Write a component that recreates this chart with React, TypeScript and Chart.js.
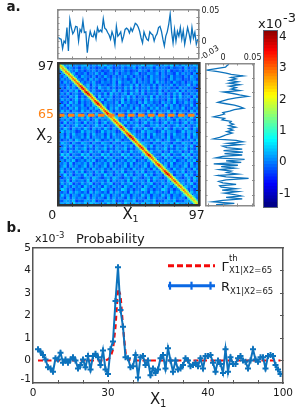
import React, { useEffect, useRef } from "react";
import { Chart, registerables } from "chart.js";

Chart.register(...registerables);

const W = 307;
const H = 413;
const FONT = "DejaVu Sans";

// ---------- panel a: top marginal ----------
const topSeries = [
  0.0075, 0.005, 0.004, -0.011, 0.001, -0.002, 0.023, -0.015, 0.036, 0.023, 0.013, 0.017, 0.025, 0.024, 0.001, 0.02,
  0.016, 0.034, 0.015, 0.016, -0.018, 0.004, 0.017, 0.009, 0.008, 0.016, 0.005, 0.023, 0.016, 0.019, 0.016, 0.037,
  0.022, 0.02, 0.015, 0.011, 0.004, 0.016, 0.009, -0.005, 0.025, 0.009, 0.012, 0.016, 0.001, 0.009, 0.02, 0.022,
  0.02, 0.014, 0.022, 0.017, 0.023, 0.03, 0.028, 0.024, 0.017, 0.006, -0.002, 0.016, 0.009, 0.004, 0.002, 0.016,
  0.013, 0.011, 0.001, 0.009, 0.013, 0.023, 0.025, 0.017, 0.004, -0.007, 0.009, 0.016, 0.028, 0.045, 0.016, -0.002,
  0.02, 0.001, 0.017, 0.009, 0.023, 0.004, 0.018, -0.004, 0.009, 0.023, 0.013, 0.001, 0.023, 0.006, 0.015, -0.004,
  0.004,
];
const topXMarks = [10, 20, 30, 40, 50, 60, 70, 80, 90];
const topYMarks = [-0.02, -0.01, 0, 0.01, 0.02, 0.03, 0.04, 0.05];
const topYLabels: [number, string][] = [[0.05, "0.05"], [0, "0"]];

// ---------- panel a: side marginal ----------
const sideSeries = [
  0.0097, 0.0063, 0.004, -0.012, -0.027, -0.009, 0.005, 0.0136, 0.0335, 0.0136, 0.022, 0.011, 0.025, 0.0097, 0.028,
  0.011, 0.022, 0.0136, 0.028, 0.0006, 0.0165, 0.028, 0.0415, 0.022, 0.008, -0.0006, -0.009, 0.005, 0.019, 0.028,
  0.0347, 0.019, 0.011, -0.0006, 0.0023, -0.006, -0.016, 0.0023, -0.0017, 0.0136, 0.011, 0.0176, 0.0097, 0.021,
  0.0097, 0.0165, 0.0063, 0.0153, 0.0063, 0.0006, -0.006, -0.016, 0.022, 0.0335, 0.008, 0.029, -0.0006, 0.0063,
  0.0324, 0.0006, 0.0335, 0.0023, 0.0324, -0.0006, -0.012, 0.0364, 0.005, 0.0307, -0.016, 0.025, -0.0034, 0.019,
  -0.006, 0.0136, 0.0063, 0.025, -0.009, 0.005, 0.0432, 0.005, -0.0074, -0.0006, 0.022, -0.006, -0.0034, 0.022,
  -0.0017, 0.025, 0.0023, 0.019, 0.0307, 0.005, 0.0324, -0.0006, -0.0176, 0.019, -0.012,
];
const sideXMarks = [-0.025, 0, 0.025, 0.05];
const sideXLabels: [number, string][] = [[0, "0"], [0.05, "0.05"]];
const sideYMarks = [10, 20, 30, 40, 50, 60, 70, 80, 90];

// ---------- panel a: covariance map ----------
// background levels, digit d => value, one string per row, top to bottom
const backgroundRows = [
  "7567856578647586957485768575695786475869574867586",
  "6354635264735246375243635472634562735426345273546",
  "5243647352546352437254635243745263546372435264537",
  "4625372436254736245372546357243654726354273645263",
  "5372436275436253742635473625436274536427354263745",
  "3645274536274635263746352473625374635247365243652",
  "6274538263547326453728456372645372846352743625476",
  "4536274635827463524736254738264537263547263548362",
  "3527463524736285473625374826354736275463527463524",
  "5263748263547326354837263548273645372635482736452",
  "4637256347285463728463572846372546375263748253647",
  "6352748263547283647253648372546382735462738456273",
  "3746258374625348276354827364527384635274836452738",
  "5263847263548372645372846352738463527463825374625",
  "4728365472638452736458273645283746352847362543827",
  "6352748365274836527483654728365274836527463825364",
  "3847265384726354837264538276453827364582736452837",
  "5263748526374825364728536472853647285364728536472",
  "7584937584926485739485739264857394857392648573948",
  "3647258364725836472583647258364752836475283647528",
  "5283647528364725836472583746258374625837462583746",
  "4726358472635847263584726358472365847263584726358",
  "6385274638527463852746385274638527463852746385274",
  "3847562384756238475623847562384765238475623847562",
  "5627384562738456273845627384562738456273845627384",
  "4738265473826547382654738265473826547382654738265",
  "6254738625473862547386254738625473862574386254738",
  "3865274386527438652743865274386527438652743865274",
  "5374826537482653748265374826537482653748265374826",
  "4682537468253746825374682537468253746825374682537",
  "7263845726384572638457263845726384572638457263845",
  "3958264395826439582643958264395826439582643958264",
  "5284736528473652847365284736528473652847365284736",
  "4637582463758246375824637582463758246375824637582",
  "6473825647382564738256473825647382564738256473825",
  "3582746358274635827463582746358274635827463582746",
  "5736284573628457362845736284573628457362845736284",
  "4825637482563748256374825637482563748256374825637",
  "6394725639472563947256394725639472563947256394725",
  "4257386425738642573864257386425738642573864257386",
  "5638274563827456382745638274563827456382745638274",
  "3746825374682537468253746825374682537468253746825",
  "6285374628537462853746285374628537462853746285374",
  "4973625497362549736254973625497362549736254973625",
  "5362847536284753628475362847536284753628475362847",
  "3847265384726538472653847265384726538472653847265",
  "6528374652837465283746528374652837465283746528374",
  "4376582437658243765824376582437658243765824376582",
  "6758496758496758496758496758496758496758496758496",
];
const backgroundBase = -0.6;
const backgroundStep = 0.12;
// values along the bright diagonal, from top-left to bottom-right
const diagonalValues = [
  2.2, 2.4, 2.5, 2.6, 2.5, 2.8, 2.7, 2.9, 2.6, 2.8, 2.9, 3.0, 2.8, 3.1, 3.0, 3.4, 3.6, 3.5, 3.2, 3.7, 3.8, 3.4, 3.1,
  3.0, 2.9, 3.2, 3.5, 3.7, 3.3, 3.0, 2.8, 2.9, 3.2, 3.4, 3.6, 3.3, 3.0, 2.7, 2.9, 3.1, 3.0, 2.8, 3.2, 3.5, 3.3, 3.0,
  2.9, 3.1, 3.4, 3.7, 3.8, 3.5, 3.2, 3.0, 2.8, 3.0, 3.3, 3.5, 3.2, 2.9, 3.1, 3.3, 3.6, 3.4, 3.1, 2.9, 2.7, 3.0, 3.2,
  3.4, 3.1, 2.8, 3.0, 3.3, 3.6, 3.7, 3.4, 3.1, 2.9, 3.0, 3.2, 2.9, 2.7, 3.0, 2.8, 2.6, 2.9, 2.7, 2.5, 2.6, 2.4, 2.5,
  2.3, 2.4, 2.2, 2.3, 2.1,
];
const diagonalSpread: [number, number][] = [[-2, 0.42], [2, 0.42], [-1, 0.72], [1, 0.72], [0, 1]];
const sliceRow = 61.7;
const sliceXs = [0, 97];
const heatMarks = [10, 20, 30, 40, 50, 60, 70, 80, 90];
const heatYLabels: [number, string][] = [[95, "97"], [sliceRow, "65"]];
const heatXLabels: [number, string][] = [[-4, "0"], [95.5, "97"]];

// ---------- colour bar ----------
const colorbarEdges = [
  -1.43, -1.3, -1.2, -1.1, -1, -0.9, -0.8, -0.7, -0.6, -0.5, -0.4, -0.3, -0.2, -0.1, 0, 0.1, 0.2, 0.3, 0.4, 0.5, 0.6,
  0.7, 0.8, 0.9, 1, 1.1, 1.2, 1.3, 1.4, 1.5, 1.6, 1.7, 1.8, 1.9, 2, 2.1, 2.2, 2.3, 2.4, 2.5, 2.6, 2.7, 2.8, 2.9, 3,
  3.1, 3.2, 3.3, 3.4, 3.5, 3.6, 3.7, 3.8, 3.9, 4, 4.1, 4.22,
];
const colorbarLabels: [number, string][] = [[4, "4"], [3, "3"], [2, "2"], [1, "1"], [0, "0"], [-1, "-1"]];

// ---------- panel b ----------
const measured = [
  0.5, 0.4, 0.25, 0.05, -0.3, -0.35, -0.5, 0.1, 0.05, 0.35, -0.1, 0.05, -0.1, 0.05, 0.15, 0, -0.35, -0.2, 0.05, -0.3,
  0.2, -0.4, 0.2, 0.3, 0.15, -0.2, 0.45, -0.4, -0.6, 0.5, 0.85, 2.65, 4.15, 2.25, 1.5, 0.15, 0.1, -0.3, -0.25, 0.25,
  -0.75, 0.15, 0.2, -0.2, 0, -0.65, -0.35, -0.55, -0.4, 0.1, 0.25, -0.35, 0.55, 0, -0.5, 0, -0.4, -0.35, -0.2, 0.1, 0,
  -0.25, -0.2, -0.1, -0.25, 0.1, -0.35, 0.2, 0.2, 0.25, -0.1, -0.5, 0, -0.15, -0.55, 0.5, -0.5, 0.15, -0.15, -0.15,
  0.1, 0.2, 0, -0.05, -0.35, 0, 0.5, 0.05, -0.05, 0.15, 0.15, -0.35, 0.2, 0.25, 0.2, -0.2, -0.4, -0.6,
];
const theory = [
  0, 0, 0, 0, 0, 0, 0, 0, 0, 0, 0, 0, 0, 0, 0, 0, 0, 0, 0, 0, 0, 0, 0, 0, 0, 0, 0, 0, 0.05, 0.15, 0.5, 1.5, 3.2, 2.9,
  1.5, 0.35, 0.05, 0, 0, 0, 0, 0, 0, 0, 0, 0, 0, 0, 0, 0, 0, 0, 0, 0, 0, 0, 0, 0, 0, 0, 0, 0, 0, 0, 0, 0, 0, 0, 0, 0, 0,
  0, 0, 0, 0, 0, 0, 0, 0, 0, 0, 0, 0, 0, 0, 0, 0, 0, 0, 0, 0, 0, 0, 0, 0, 0, 0, 0,
];
const firstX = 2;
const bottomXMarks = [10, 20, 30, 40, 50, 60, 70, 80, 90];
const bottomXLabels: [number, string][] = [[0, "0"], [30, "30"], [70, "40"], [100, "100"]];
const bottomYMarks = [0, 1, 2, 3, 4];
const bottomYLabels: [number, string][] = [
  [5, "5"], [4, "4"], [3, "3"], [2, "2"], [1, "1"], [0, "0"], [-0.85, "-1"],
];

// ---------- helpers ----------
function jet(v: number) {
  const t = Math.min(1, Math.max(0, (v + 1.43) / 5.65));
  const c = (x: number) => Math.round(255 * Math.min(1, Math.max(0, x)));
  const r = c(1.5 - Math.abs(4 * t - 3));
  const g = c(1.5 - Math.abs(4 * t - 2));
  const b = c(1.5 - Math.abs(4 * t - 1));
  return `rgb(${r},${g},${b})`;
}

type Frame = { L: number; T: number; R: number; B: number; size: any };
function frame(L: number, T: number, R: number, B: number): Frame {
  return {
    L, T, R, B,
    size: {
      left: Math.min(L, 45), top: Math.min(T, 30),
      right: Math.min(W - R, 45), bottom: Math.min(H - B, 30),
    },
  };
}
function padding(f: Frame) {
  return {
    left: f.L - f.size.left, top: f.T - f.size.top,
    right: W - f.R - f.size.right, bottom: H - f.B - f.size.bottom,
  };
}
function axis(
  f: Frame, position: string, range: [number, number], marks: number[],
  labels: [number, string][], style: any,
) {
  const horizontal = position === "top" || position === "bottom";
  const all = [...marks, ...labels.map((l) => l[0]).filter((v) => !marks.includes(v))];
  const lookup = new Map(labels);
  return {
    type: "linear", axis: horizontal ? "x" : "y", position,
    min: range[0], max: range[1], reverse: !!style.reverse,
    afterBuildTicks: (s: any) => { s.ticks = all.map((value) => ({ value })); },
    afterFit: (s: any) => {
      if (horizontal) s.height = f.size[position]; else s.width = f.size[position];
      s.paddingLeft = s.paddingRight = s.paddingTop = s.paddingBottom = 0;
    },
    grid: {
      drawOnChartArea: false, drawTicks: true, tickLength: -(style.tick ?? 3), tickWidth: style.tickWidth ?? 1, z: 1,
      tickColor: (c: any) => (marks.includes(c.tick?.value) ? style.color : "rgba(0,0,0,0)"),
    },
    border: { display: true, color: style.color, width: style.width, z: 1 },
    ticks: {
      display: labels.length > 0, autoSkip: false, maxRotation: 0, minRotation: 0, padding: style.pad ?? 0,
      font: { family: FONT, size: style.font ?? 8 }, color: style.labelColor ?? "#1a1a1a",
      callback: (v: number) => lookup.get(v) ?? "",
    },
  };
}
const baseOptions = (f: Frame, scales: any) => ({
  animation: false, responsive: false, events: [],
  layout: { padding: padding(f) },
  plugins: { legend: { display: false }, tooltip: { enabled: false } },
  scales,
});

const LINE_BLUE = "#0c72bc";
const GREY = { color: "#8b8b8b", width: 1.6 };

function topConfig() {
  const f = frame(57.5, 10, 198.5, 58.5);
  const xr: [number, number] = [0, 97];
  const yr: [number, number] = [-0.0274, 0.0516];
  return {
    type: "scatter",
    data: {
      datasets: [{
        data: topSeries.map((y, i) => ({ x: i + 0.5, y })),
        showLine: true, borderColor: LINE_BLUE, borderWidth: 1.3, pointRadius: 0,
      }],
    },
    options: baseOptions(f, {
      x: axis(f, "bottom", xr, topXMarks, [], { ...GREY, tick: 2 }),
      x2: axis(f, "top", xr, topXMarks, [], { ...GREY, tick: 2 }),
      y: axis(f, "right", yr, topYMarks, topYLabels, { ...GREY, tick: 2, pad: 5, font: 8 }),
      y2: axis(f, "left", yr, topYMarks, [], { ...GREY, tick: 2 }),
    }),
  };
}

function heatConfig() {
  const f = frame(58, 63.5, 199, 205.5);
  const r: [number, number] = [0, 97];
  const cells: any[] = [];
  const colors: string[] = [];
  const n = backgroundRows.length;
  backgroundRows.forEach((row, ri) => {
    row.split("").forEach((ch, ci) => {
      cells.push({ x: ((ci + 0.5) * 97) / n, y: 97 - ((ri + 0.5) * 97) / n });
      colors.push(jet(backgroundBase + Number(ch) * backgroundStep));
    });
  });
  const diag: any[] = [];
  const diagColors: string[] = [];
  diagonalSpread.forEach(([off, k]) => {
    diagonalValues.forEach((v, i) => {
      diag.push({ x: i + 0.5 + off, y: 97 - i - 0.5 });
      diagColors.push(jet(v * k));
    });
  });
  const style = { color: "#333333", width: 2.6, tick: 3 };
  return {
    type: "scatter",
    data: {
      datasets: [
        {
          data: sliceXs.map((x) => ({ x, y: sliceRow })), showLine: true, borderColor: "#ff8214",
          borderWidth: 3, borderDash: [6.5, 3.5], pointRadius: 0,
        },
        {
          data: diag, pointStyle: "rect", pointRadius: 1.25, pointBorderWidth: 0,
          pointBackgroundColor: diagColors,
        },
        {
          data: cells, pointStyle: "rect", pointRadius: 2.2, pointBorderWidth: 0,
          pointBackgroundColor: colors,
        },
      ],
    },
    options: baseOptions(f, {
      x: axis(f, "bottom", r, heatMarks, heatXLabels, { ...style, pad: 6, font: 12.5 }),
      x2: axis(f, "top", r, heatMarks, [], style),
      y: axis(f, "left", r, heatMarks, heatYLabels, {
        ...style, pad: 7, font: 12.5,
        labelColor: (c: any) => (c.tick?.value === sliceRow ? "#ff8214" : "#1a1a1a"),
      }),
      y2: axis(f, "right", r, heatMarks, [], style),
    }),
  };
}

function sideConfig() {
  const f = frame(205.5, 63.5, 254, 205.5);
  const xr: [number, number] = [-0.03, 0.0524];
  const yr: [number, number] = [0, 97];
  return {
    type: "scatter",
    data: {
      datasets: [{
        data: sideSeries.map((x, i) => ({ x, y: i + 0.5 })),
        showLine: true, borderColor: LINE_BLUE, borderWidth: 1.3, pointRadius: 0,
      }],
    },
    options: baseOptions(f, {
      x: axis(f, "top", xr, sideXMarks, sideXLabels, { ...GREY, tick: 2, pad: 3, font: 8 }),
      x2: axis(f, "bottom", xr, sideXMarks, [], { ...GREY, tick: 2 }),
      y: axis(f, "left", yr, sideYMarks, [], { ...GREY, tick: 2, reverse: true }),
      y2: axis(f, "right", yr, sideYMarks, [], { ...GREY, tick: 2, reverse: true }),
    }),
  };
}

function colorbarConfig() {
  const f = frame(263.5, 30, 277, 207);
  const r: [number, number] = [-1.43, 4.22];
  const style = { color: "#5c6478", width: 1 };
  const cat = (position: string) => ({
    type: "category", axis: "x", position, labels: ["c"], offset: true,
    afterFit: (s: any) => {
      s.height = f.size[position];
      s.paddingLeft = s.paddingRight = s.paddingTop = s.paddingBottom = 0;
    },
    grid: { drawOnChartArea: false, drawTicks: false, z: 1 },
    border: { display: true, color: style.color, width: style.width, z: 1 },
    ticks: { display: false },
  });
  return {
    type: "bar",
    data: {
      labels: ["c"],
      datasets: colorbarEdges.slice(0, -1).map((lo, i) => ({
        data: [[lo, colorbarEdges[i + 1] + (i < colorbarEdges.length - 2 ? 0.03 : 0)]],
        backgroundColor: jet((lo + colorbarEdges[i + 1]) / 2),
        barPercentage: 1, categoryPercentage: 1, grouped: false, borderWidth: 0,
      })),
    },
    options: baseOptions(f, {
      x: cat("bottom"),
      x2: cat("top"),
      y: axis(f, "right", r, [], colorbarLabels, { ...style, pad: 5, font: 12 }),
      y2: axis(f, "left", r, [], [], style),
    }),
  };
}

const legendPlugin = {
  id: "legendSamples",
  afterDatasetsDraw(chart: any) {
    const ctx = chart.ctx;
    ctx.save();
    ctx.strokeStyle = "#f40a0a";
    ctx.lineWidth = 3;
    ctx.setLineDash([6, 3]);
    ctx.beginPath(); ctx.moveTo(168, 265.7); ctx.lineTo(215, 265.7); ctx.stroke();
    ctx.setLineDash([]);
    ctx.strokeStyle = "#0a68e4";
    ctx.beginPath(); ctx.moveTo(168, 285.7); ctx.lineTo(215, 285.7); ctx.stroke();
    ctx.lineWidth = 2.2;
    [170, 191.5, 210.5].forEach((x) => {
      ctx.beginPath(); ctx.moveTo(x, 281.7); ctx.lineTo(x, 289.7); ctx.stroke();
    });
    ctx.restore();
  },
};

function bottomConfig() {
  const f = frame(33, 248, 283, 383);
  const xr: [number, number] = [0, 100];
  const yr: [number, number] = [-1, 5];
  const style = { color: "#555555", width: 1.5, tick: 3 };
  return {
    type: "scatter",
    data: {
      datasets: [
        {
          data: measured.map((y, i) => ({ x: firstX + i, y })),
          showLine: true, borderColor: LINE_BLUE, borderWidth: 2, pointStyle: "cross", pointRadius: 3,
          pointBorderWidth: 2, pointBorderColor: LINE_BLUE,
        },
        {
          data: theory.map((y, i) => ({ x: firstX + i, y })),
          showLine: true, borderColor: "#f40a0a", borderWidth: 2.2, borderDash: [5, 3.5], pointRadius: 0,
        },
      ],
    },
    options: baseOptions(f, {
      x: axis(f, "bottom", xr, bottomXMarks, bottomXLabels, { ...style, pad: 7, font: 10.5 }),
      x2: axis(f, "top", xr, [], [], style),
      y: axis(f, "left", yr, [], bottomYLabels, { ...style, pad: 5, font: 10.5 }),
      y2: axis(f, "right", yr, bottomYMarks, [], style),
    }),
    plugins: [legendPlugin],
  };
}

const configs = [topConfig, heatConfig, sideConfig, colorbarConfig, bottomConfig];

function T({ x, base, size, bold, color, rotate, children }: any) {
  return (
    <span
      style={{
        position: "absolute", left: x, top: base - 0.846 * size, fontFamily: FONT, fontSize: size, lineHeight: 1,
        whiteSpace: "nowrap", fontWeight: bold ? 700 : 400, color: color ?? "#1a1a1a",
        transform: rotate ? `rotate(${rotate}deg)` : undefined, transformOrigin: "left bottom",
      }}
    >
      {children}
    </span>
  );
}

function Panel({ make }: { make: () => any }) {
  const ref = useRef<HTMLCanvasElement>(null);
  useEffect(() => {
    const chart = new Chart(ref.current as HTMLCanvasElement, make());
    return () => chart.destroy();
  }, [make]);
  return <canvas ref={ref} width={W} height={H} style={{ position: "absolute", left: 0, top: 0, width: W, height: H }} />;
}

export default function App() {
  return (
    <div style={{ position: "fixed", left: 0, top: 0, width: W, height: H, background: "#fff", overflow: "hidden", filter: "blur(0.3px)" }}>
      {configs.map((make, i) => <Panel key={i} make={make} />)}
      <T x={6.5} base={11} size={13.5} bold>a.</T>
      <T x={6.5} base={232} size={13.5} bold>b.</T>

      <T x={122.5} base={220} size={15}>X</T>
      <T x={132.5} base={222} size={9.5}>1</T>
      <T x={36} base={141} size={15}>X</T>
      <T x={46.5} base={143.5} size={9.5}>2</T>
      <T x={150} base={405} size={15}>X</T>
      <T x={160} base={407} size={10}>1</T>

      <T x={203} base={61} size={8} rotate={-32}>-0.03</T>

      <T x={258} base={28} size={13}>x10</T>
      <T x={283} base={22} size={13}>-3</T>

      <T x={35} base={242} size={11}>x10</T>
      <T x={56} base={238} size={8.5}>-3</T>
      <T x={76} base={242.5} size={13}>Probability</T>

      <T x={221.5} base={270.5} size={13}>Γ</T>
      <T x={229} base={261.5} size={8.5}>th</T>
      <T x={229} base={273.5} size={8.5}>X1|X2=65</T>
      <T x={221} base={291} size={13}>R</T>
      <T x={230} base={294} size={8.5}>X1|X2=65</T>
    </div>
  );
}
